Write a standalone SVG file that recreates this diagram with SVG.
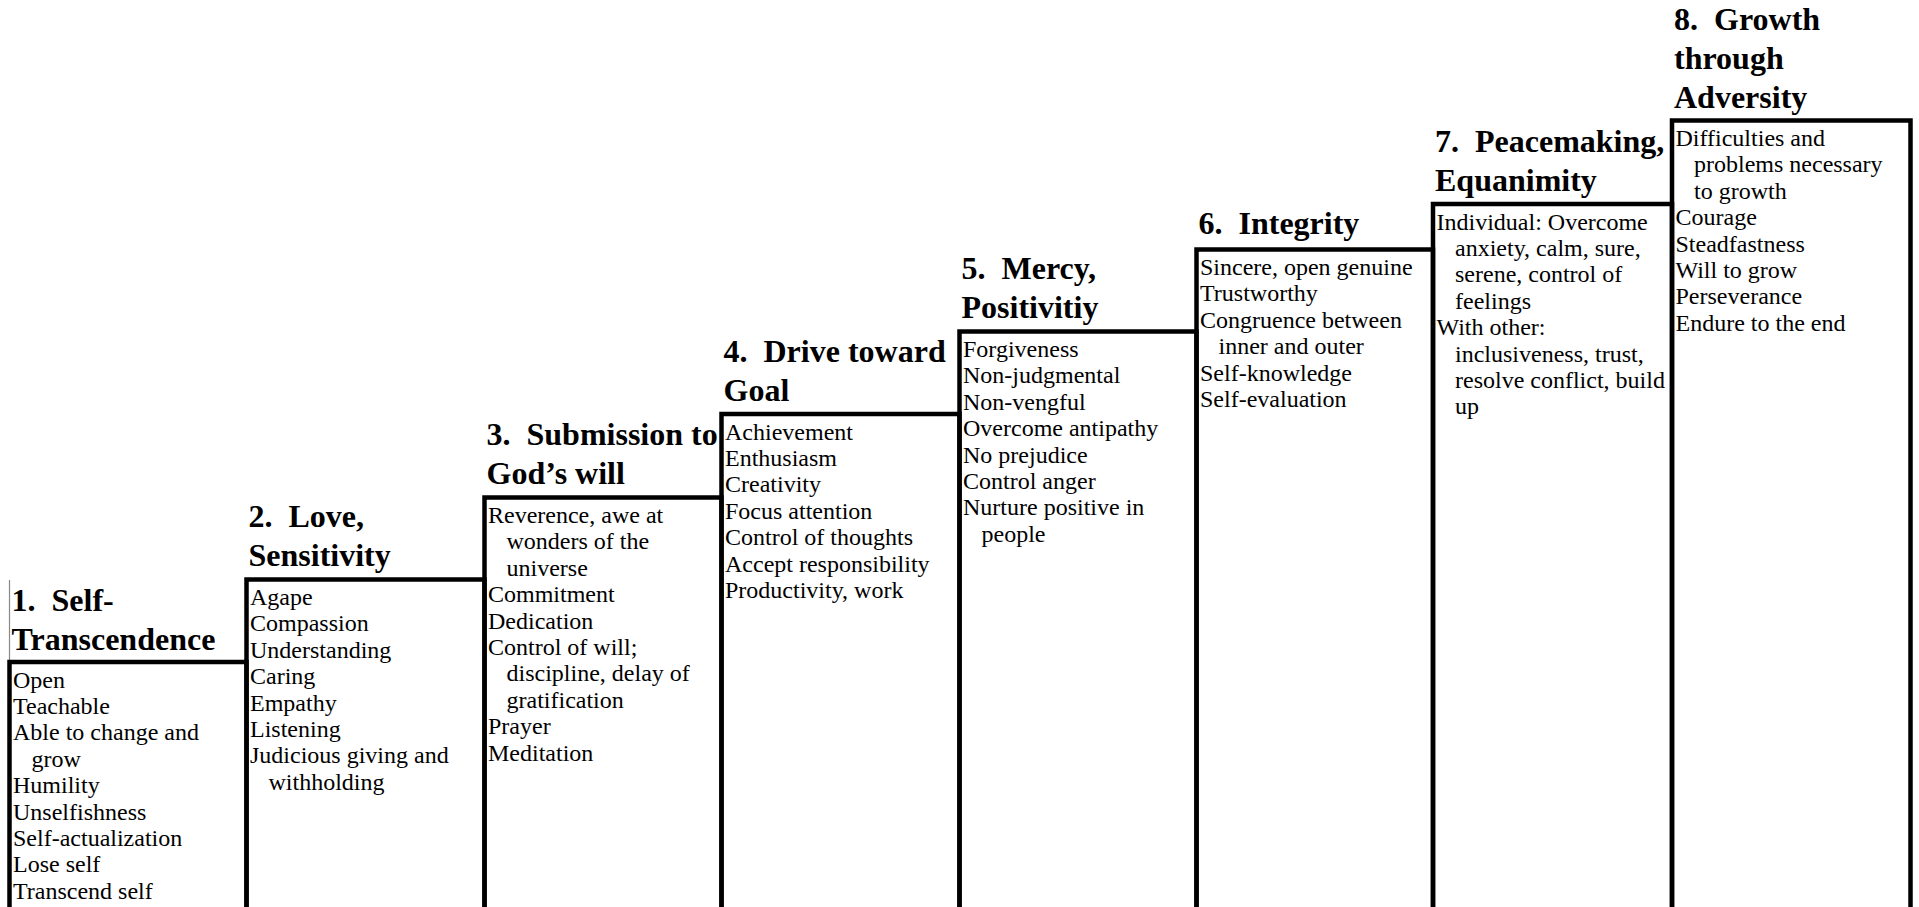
<svg xmlns="http://www.w3.org/2000/svg" width="1919" height="907" viewBox="0 0 1919 907">
<style>
.box{fill:none;stroke:#000;stroke-width:4.5}
.thin{stroke:#888;stroke-width:1.2}
.h{font-family:"Liberation Serif","Times New Roman",serif;font-weight:bold;font-size:32px;fill:#000;white-space:pre}
.b{font-family:"Liberation Serif","Times New Roman",serif;font-size:24px;fill:#000;white-space:pre}
</style>
<rect x="0" y="0" width="1919" height="907" fill="#fff"/>
<g id="connectors"></g>
<g id="step1">
<line class="thin" x1="9.5" y1="580" x2="9.5" y2="662"/>
<rect class="box" x="9.5" y="662" width="237" height="300"/>
<text class="h"><tspan x="11.5" y="611">1.  Self-</tspan><tspan x="11.5" y="650">Transcendence</tspan></text>
<text class="b" y="687.5"><tspan x="13">Open</tspan><tspan x="13" dy="26.4">Teachable</tspan><tspan x="13" dy="26.4">Able to change and</tspan><tspan x="31.5" dy="26.4">grow</tspan><tspan x="13" dy="26.4">Humility</tspan><tspan x="13" dy="26.4">Unselfishness</tspan><tspan x="13" dy="26.4">Self-actualization</tspan><tspan x="13" dy="26.4">Lose self</tspan><tspan x="13" dy="26.4">Transcend self</tspan></text>
</g>
<g id="step2">
<rect class="box" x="246.5" y="579.5" width="238" height="400"/>
<text class="h"><tspan x="248.5" y="527">2.  Love,</tspan><tspan x="248.5" y="566">Sensitivity</tspan></text>
<text class="b" y="605"><tspan x="250">Agape</tspan><tspan x="250" dy="26.4">Compassion</tspan><tspan x="250" dy="26.4">Understanding</tspan><tspan x="250" dy="26.4">Caring</tspan><tspan x="250" dy="26.4">Empathy</tspan><tspan x="250" dy="26.4">Listening</tspan><tspan x="250" dy="26.4">Judicious giving and</tspan><tspan x="268.5" dy="26.4">withholding</tspan></text>
</g>
<g id="step3">
<rect class="box" x="484.5" y="497.5" width="237" height="500"/>
<text class="h"><tspan x="486.5" y="445">3.  Submission to</tspan><tspan x="486.5" y="484">God’s will</tspan></text>
<text class="b" y="523"><tspan x="488">Reverence, awe at</tspan><tspan x="506.5" dy="26.4">wonders of the</tspan><tspan x="506.5" dy="26.4">universe</tspan><tspan x="488" dy="26.4">Commitment</tspan><tspan x="488" dy="26.4">Dedication</tspan><tspan x="488" dy="26.4">Control of will;</tspan><tspan x="506.5" dy="26.4">discipline, delay of</tspan><tspan x="506.5" dy="26.4">gratification</tspan><tspan x="488" dy="26.4">Prayer</tspan><tspan x="488" dy="26.4">Meditation</tspan></text>
</g>
<g id="step4">
<rect class="box" x="721.5" y="414" width="238" height="600"/>
<text class="h"><tspan x="723.5" y="361.5">4.  Drive toward</tspan><tspan x="723.5" y="400.5">Goal</tspan></text>
<text class="b" y="439.5"><tspan x="725">Achievement</tspan><tspan x="725" dy="26.4">Enthusiasm</tspan><tspan x="725" dy="26.4">Creativity</tspan><tspan x="725" dy="26.4">Focus attention</tspan><tspan x="725" dy="26.4">Control of thoughts</tspan><tspan x="725" dy="26.4">Accept responsibility</tspan><tspan x="725" dy="26.4">Productivity, work</tspan></text>
</g>
<g id="step5">
<rect class="box" x="959.5" y="331.5" width="237" height="700"/>
<text class="h"><tspan x="961.5" y="279">5.  Mercy,</tspan><tspan x="961.5" y="318">Positivitiy</tspan></text>
<text class="b" y="357"><tspan x="963">Forgiveness</tspan><tspan x="963" dy="26.4">Non-judgmental</tspan><tspan x="963" dy="26.4">Non-vengful</tspan><tspan x="963" dy="26.4">Overcome antipathy</tspan><tspan x="963" dy="26.4">No prejudice</tspan><tspan x="963" dy="26.4">Control anger</tspan><tspan x="963" dy="26.4">Nurture positive in</tspan><tspan x="981.5" dy="26.4">people</tspan></text>
</g>
<g id="step6">
<rect class="box" x="1196.5" y="249.5" width="236.5" height="700"/>
<text class="h"><tspan x="1198.5" y="234">6.  Integrity</tspan></text>
<text class="b" y="275"><tspan x="1200">Sincere, open genuine</tspan><tspan x="1200" dy="26.4">Trustworthy</tspan><tspan x="1200" dy="26.4">Congruence between</tspan><tspan x="1218.5" dy="26.4">inner and outer</tspan><tspan x="1200" dy="26.4">Self-knowledge</tspan><tspan x="1200" dy="26.4">Self-evaluation</tspan></text>
</g>
<g id="step7">
<rect class="box" x="1433" y="204" width="239" height="800"/>
<text class="h"><tspan x="1435" y="151.5">7.  Peacemaking,</tspan><tspan x="1435" y="190.5">Equanimity</tspan></text>
<text class="b" y="229.5"><tspan x="1436.5">Individual: Overcome</tspan><tspan x="1455" dy="26.4">anxiety, calm, sure,</tspan><tspan x="1455" dy="26.4">serene, control of</tspan><tspan x="1455" dy="26.4">feelings</tspan><tspan x="1436.5" dy="26.4">With other:</tspan><tspan x="1455" dy="26.4">inclusiveness, trust,</tspan><tspan x="1455" dy="26.4">resolve conflict, build</tspan><tspan x="1455" dy="26.4">up</tspan></text>
</g>
<g id="step8">
<rect class="box" x="1672" y="120.5" width="238.5" height="900"/>
<text class="h"><tspan x="1674" y="29.5">8.  Growth</tspan><tspan x="1674" y="68.5">through</tspan><tspan x="1674" y="107.5">Adversity</tspan></text>
<text class="b" y="146"><tspan x="1675.5">Difficulties and</tspan><tspan x="1694" dy="26.4">problems necessary</tspan><tspan x="1694" dy="26.4">to growth</tspan><tspan x="1675.5" dy="26.4">Courage</tspan><tspan x="1675.5" dy="26.4">Steadfastness</tspan><tspan x="1675.5" dy="26.4">Will to grow</tspan><tspan x="1675.5" dy="26.4">Perseverance</tspan><tspan x="1675.5" dy="26.4">Endure to the end</tspan></text>
</g>
</svg>
